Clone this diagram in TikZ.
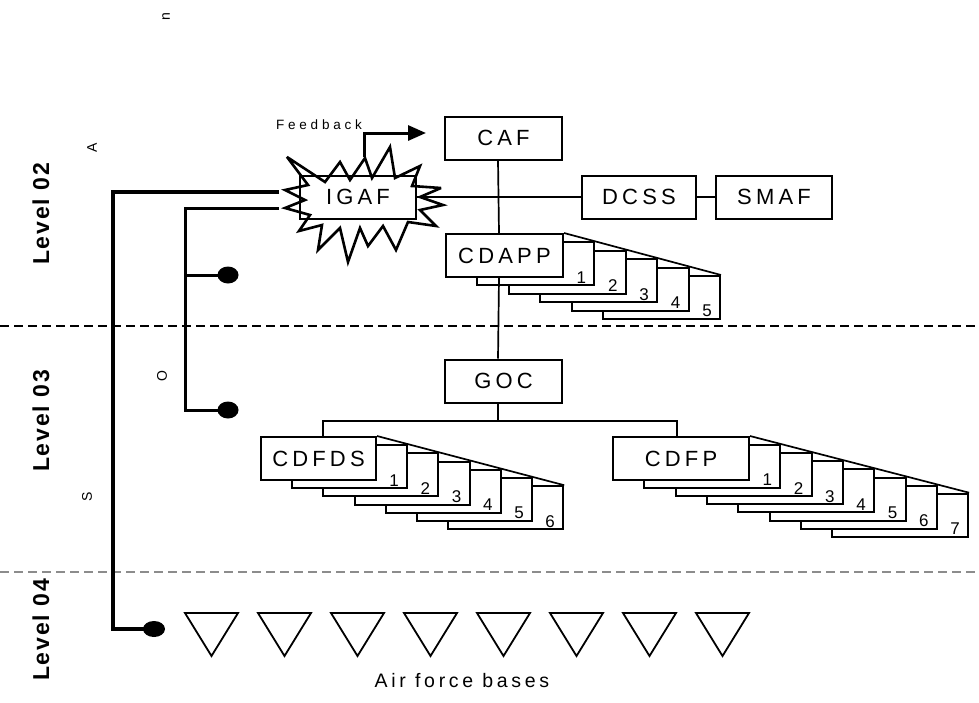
\documentclass[tikz,border=0pt]{standalone}
\usepackage{fontspec}
\setmainfont{Liberation Sans}
\newfontfamily\wide[LetterSpace=19]{Liberation Sans}
\newfontfamily\wider[LetterSpace=28]{Liberation Sans}
\newfontfamily\lvlfont[LetterSpace=8]{Liberation Sans}
\usetikzlibrary{arrows.meta,shapes.geometric}

\tikzset{
  box/.style={draw, line width=2pt, fill=white, inner sep=0pt,
    minimum height=43pt, font=\wide\fontsize{22}{22}\selectfont},
  sheet/.style={draw, line width=2pt, fill=white, inner sep=0pt,
    minimum height=43pt, anchor=north west},
  num/.style={inner sep=0pt, font=\fontsize{17}{17}\selectfont},
  link/.style={line width=1.7pt},
  slant/.style={line width=1.7pt},
  outerbus/.style={line width=4pt},
  innerbus/.style={line width=3pt},
  dot/.style={ellipse, fill=black, inner sep=0pt, minimum width=21pt, minimum height=17pt},
  lvl/.style={rotate=90, font=\lvlfont\bfseries\fontsize{23}{23}\selectfont},
  tiny/.style={rotate=90, font=\fontsize{14}{14}\selectfont},
  base/.style={line width=1.8pt, line join=miter},
  divider/.style={line width=1.6pt, dash pattern=on 9pt off 5pt},
}

\begin{document}
\begin{tikzpicture}[x=1pt,y=-1pt]
\useasboundingbox (0,0) rectangle (979,702);

% level dividers
\coordinate (d1l) at (0,326);  \coordinate (d1r) at (979,326);
\coordinate (d2l) at (0,572);  \coordinate (d2r) at (979,572);
\draw[divider] (d1l) -- (d1r);
\draw[divider, black!45] (d2l) -- (d2r);

% level labels and side letters
\node[lvl] (lv2) at (41,214) {Level 02};
\node[lvl] (lv3) at (41,421) {Level 03};
\node[lvl] (lv4) at (41,630) {Level 04};
\node[tiny] (ln) at (166,17) {n};
\node[tiny] (la) at (92,148) {A};
\node[tiny] (lo) at (162,376) {O};
\node[tiny] (ls) at (87,497) {S};

% starburst around IGAF
\draw[line width=2.6pt, line join=miter, miter limit=4, fill=white]
  (287,157) -- (325,182) -- (340,162) -- (350,180) -- (365,158) -- (372,178)
  -- (390,147) -- (395,178) -- (420,166) -- (412,186) -- (441,188) -- (420,197)
  -- (443,205) -- (420,210) -- (436,226) -- (408,222) -- (396,250) -- (383,226)
  -- (368,246) -- (360,228) -- (348,262) -- (340,228) -- (318,250) -- (322,225)
  -- (299,231) -- (310,215) -- (285,208) -- (305,200) -- (285,190) -- (308,185)
  -- cycle;
\node[box, fill=none, minimum width=116pt] (igaf) at (358,197) {IGAF};

% top level
\node[box, minimum width=117pt] (caf) at (503.5,138) {CAF};
\node[box, minimum width=114pt] (dcss) at (639,197) {DCSS};
\node[box, minimum width=116pt] (smaf) at (774,197) {SMAF};
\draw[link] (igaf.east) -- (dcss.west);
\draw[link] (dcss.east) -- (smaf.west);

% feedback arrow
\node[font=\wider\fontsize{13.5}{13.5}\selectfont, inner sep=0pt] (fb) at (319,125) {Feedback};
\coordinate (fbstart) at (364,157);
\coordinate (fbend) at (426,133);
\draw[line width=3pt, -{Triangle[length=18pt,width=15pt]}]
  (fbstart) |- (fbend);

% CDAPP stack
\foreach \k in {5,...,1} {
  \node[sheet, minimum width=117pt] (cdapp-\k) at (445+\k*31.4, 233+\k*8.4) {};
  \node[num] (cdapp-n\k) at ([xshift=-14pt,yshift=9pt]cdapp-\k.south east) {\k};
}
\node[box, anchor=north west, minimum width=117pt] (cdapp) at (445,233) {CDAPP};
\draw[slant] (cdapp.north east) -- (cdapp-5.north east);

% GOC
\node[box, minimum width=117pt] (goc) at (503.5,381) {GOC};

% CDFDS stack
\foreach \k in {6,...,1} {
  \node[sheet, minimum width=115pt] (cdfds-\k) at (260+\k*31.2, 436+\k*8.2) {};
  \node[num] (cdfds-n\k) at ([xshift=-14pt,yshift=9pt]cdfds-\k.south east) {\k};
}
\node[box, anchor=north west, minimum width=115pt] (cdfds) at (260,436) {CDFDS};
\draw[slant] (cdfds.north east) -- (cdfds-6.north east);

% CDFP stack
\foreach \k in {7,...,1} {
  \node[sheet, minimum width=136pt] (cdfp-\k) at (612+\k*31.3, 436+\k*8.1) {};
  \node[num] (cdfp-n\k) at ([xshift=-14pt,yshift=9pt]cdfp-\k.south east) {\k};
}
\node[box, anchor=north west, minimum width=136pt] (cdfp) at (612,436) {CDFP};
\draw[slant] (cdfp.north east) -- (cdfp-7.north east);

% command chain
\draw[link] ([xshift=-5.5pt]caf.south) -- ([xshift=-5.5pt]cdapp.north);
\draw[link] ([xshift=-5.5pt]cdapp.south) -- ([xshift=-5.5pt]goc.north);
\coordinate (bus) at (498,421);
\draw[link] ([xshift=-5.5pt]goc.south) -- (bus);
\draw[link] ([xshift=4.5pt]cdfds.north) |- (bus);
\draw[link] ([xshift=-4pt]cdfp.north) |- (bus);

% IGAF reporting lines
\node[dot] (e1) at (228,275) {};
\node[dot] (e2) at (228,410) {};
\node[dot, minimum width=22pt, minimum height=16pt] (e3) at (154,629) {};
\coordinate (ob) at (279,192);
\coordinate (ib) at (279,208);
\draw[outerbus] (ob) -- (113,192) |- (e3.center);
\draw[innerbus] (ib) -- (185,208) |- (e2.center);
\draw[innerbus] (185,275) -- (e1.center);

% air force bases
\foreach \i in {0,...,7} {
  \draw[base] (185+\i*73,613) -- (238+\i*73,613) -- (211.5+\i*73,656) -- cycle;
}
\node[font=\wide\fontsize{19.5}{19.5}\selectfont, inner sep=0pt] (afb) at (462,681) {Air force bases};
\end{tikzpicture}
\end{document}
